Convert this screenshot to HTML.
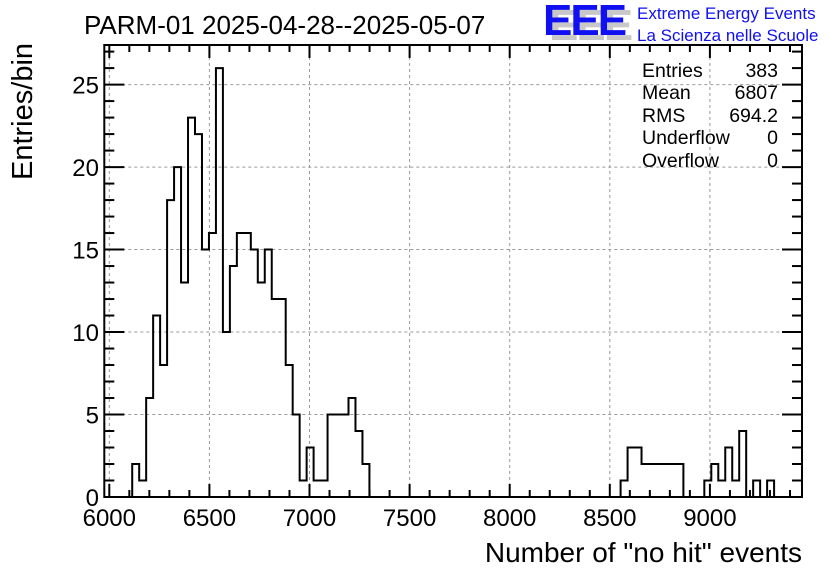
<!DOCTYPE html>
<html><head><meta charset="utf-8"><style>
body{margin:0;background:#fff;}
svg text{font-family:"Liberation Sans",sans-serif;}
</style></head><body>
<svg id="chart" width="836" height="572" xmlns="http://www.w3.org/2000/svg">
<rect width="836" height="572" fill="#fff"/>
<g id="grid"></g>
<path id="hist" fill="none" stroke="#000" stroke-width="2"/>
<g id="axes"></g>
<text x="84" y="34" font-size="26">PARM-01 2025-04-28--2025-05-07</text>
<g>
<text x="549" y="40" font-size="44" font-weight="bold" fill="#c8c8c8" letter-spacing="-2">EEE</text>
<text x="543" y="35" font-size="44" font-weight="bold" fill="#1010f0" letter-spacing="-2">EEE</text>
<text x="637" y="19" font-size="17" fill="#1010f0">Extreme Energy Events</text>
<text x="637" y="41" font-size="17" fill="#1010f0">La Scienza nelle Scuole</text>
</g>
<g font-size="19.5">
<text x="642" y="77">Entries</text><text x="778" y="77" text-anchor="end">383</text>
<text x="642" y="99">Mean</text><text x="778" y="99" text-anchor="end">6807</text>
<text x="642" y="122">RMS</text><text x="778" y="122" text-anchor="end">694.2</text>
<text x="642" y="144">Underflow</text><text x="778" y="144" text-anchor="end">0</text>
<text x="642" y="167">Overflow</text><text x="778" y="167" text-anchor="end">0</text>
</g>
<text transform="translate(32,180) rotate(-90)" font-size="29">Entries/bin</text>
<text x="802" y="562" font-size="28" text-anchor="end">Number of "no hit" events</text>
</svg>
<script>
const binStart = 4;
const counts = [2,1,6,11,8,18,20,13,23,22,15,16,26,10,14,16,16,15,13,15,12,12,8,5,1,3,1,1,5,5,5,6,4,2,0,0,0,0,0,0,0,0,0,0,0,0,0,0,0,0,0,0,0,0,0,0,0,0,0,0,0,0,0,0,0,0,0,0,0,0,1,3,3,2,2,2,2,2,2,0,0,0,1,2,1,3,1,4,0,1,0,1];
const xTicks = [6000,6500,7000,7500,8000,8500,9000];
const yTicks = [0,5,10,15,20,25];
const xMin = 5975, xMax = 9460, nBins = 100, yMax = 27.4;
const L=104.3, R=802, T=45, B=497;
const bw = (xMax-xMin)/nBins;
const sx = v => L + (v-xMin)/(xMax-xMin)*(R-L);
const sy = v => B - v/yMax*(B-T);
const NS="http://www.w3.org/2000/svg";
function mk(parent,tag,attrs){const e=document.createElementNS(NS,tag);for(const k in attrs)e.setAttribute(k,attrs[k]);parent.appendChild(e);return e;}
let d = "M"+sx(xMin+binStart*bw)+","+sy(0);
counts.forEach((c,i)=>{const x0=sx(xMin+(binStart+i)*bw), x1=sx(xMin+(binStart+i+1)*bw);d+=" L"+x0+","+sy(c)+" L"+x1+","+sy(c);});
d += " L"+sx(xMin+(binStart+counts.length)*bw)+","+sy(0);
document.getElementById('hist').setAttribute('d',d);
const grid=document.getElementById('grid'), axes=document.getElementById('axes');
xTicks.forEach(v=>{
  const g=mk(grid,'line',{x1:sx(v),x2:sx(v),y1:T,y2:B,stroke:'#999','stroke-dasharray':'3,3','stroke-width':1});
  
  
  const t=mk(axes,'text',{x:sx(v),y:526,'font-size':24,'text-anchor':'middle'});t.textContent=v;
  
  
});
yTicks.forEach(v=>{
  if(v>0){const g=mk(grid,'line',{x1:L,x2:R,y1:sy(v),y2:sy(v),stroke:'#999','stroke-dasharray':'3,3','stroke-width':1});
  
  }
  const t=mk(axes,'text',{x:99,y:sy(v)+9,'font-size':24,'text-anchor':'end'});t.textContent=v;
  
  
});
for(let v=6000; v<=9400; v+=100){
  const len = v%500===0?13:7;
  mk(axes,'line',{x1:sx(v),x2:sx(v),y1:B,y2:B-len,stroke:'#000','stroke-width':2});
  mk(axes,'line',{x1:sx(v),x2:sx(v),y1:T,y2:T+len,stroke:'#000','stroke-width':2});
}
for(let v=0; v<=27; v+=1){
  const len = v%5===0?20:10;
  mk(axes,'line',{x1:L,x2:L+len,y1:sy(v),y2:sy(v),stroke:'#000','stroke-width':2});
  mk(axes,'line',{x1:R,x2:R-len,y1:sy(v),y2:sy(v),stroke:'#000','stroke-width':2});
}
const f=mk(axes,'rect',{x:L,y:T,width:R-L,height:B-T,fill:'none',stroke:'#000','stroke-width':2});


</script>
</body></html>
